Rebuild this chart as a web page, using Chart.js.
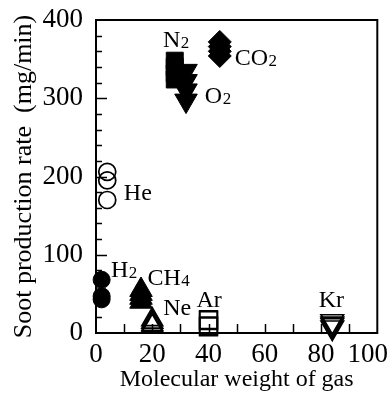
<!DOCTYPE html>
<html><head><meta charset="utf-8">
<script src="https://cdn.jsdelivr.net/npm/chart.js@4.4.1/dist/chart.umd.min.js"></script>
<style>html,body{margin:0;padding:0;background:#fff;}</style>
</head><body>
<canvas id="c" width="392" height="401"></canvas>
<script>
// ---- data ----
const gasNames      = ['H2', 'He', 'CH4', 'Ne', 'N2', 'O2', 'Ar', 'CO2', 'Kr'];
const molecularWeight = [2, 4, 16, 20, 28, 32, 40, 44, 84];
const h2Rates  = [68, 47, 43];
const heRates  = [206, 195, 170];
const ch4Rates = [55, 50, 45, 40];
const neRates  = [17, 14, 11, 9];
const n2Rates  = [348, 340, 332, 324];
const o2Rates  = [335, 322, 310, 297];
const arRates  = [17, 16, 9, 8];
const co2Rates = [372, 366, 360, 354];
const krRates  = [15, 12, 10, 7];
const xTickValues = [0, 20, 40, 60, 80, 100];
const yTickValues = [0, 100, 200, 300, 400];
const xTitle = 'Molecular weight of gas';
const yTitle = 'Soot production rate  (mg/min)';
// label text: main part + subscript
const labelMain = ['H', 'He', 'CH', 'Ne', 'N', 'O', 'Ar', 'CO', 'Kr'];
const labelSub  = ['2', '', '4', '', '2', '2', '', '2', ''];
// label anchors (left edge, baseline) in data units
const labelAnchorX = [5.3, 9.9, 18.3, 23.9, 23.8, 38.7, 35.7, 49.3, 79.2];
const labelAnchorY = [71.6, 170, 61.3, 23, 365.5, 294, 33, 342.5, 33];

const rateSeries = [h2Rates, heRates, ch4Rates, neRates, n2Rates, o2Rates, arRates, co2Rates, krRates];
// marker style per gas
const markerStyle = {
  H2:  {s: 'circle',   r: 8.5,  fill: true,  rot: 0},
  He:  {s: 'circle',   r: 8.5,  fill: false, rot: 0},
  CH4: {s: 'triangle', r: 13,   fill: true,  rot: 0},
  Ne:  {s: 'triangle', r: 12,   fill: false, rot: 0},
  N2:  {s: 'rect',     r: 12,   fill: true,  rot: 0},
  O2:  {s: 'triangle', r: 13,   fill: true,  rot: 180},
  Ar:  {s: 'rect',     r: 12.5, fill: false, rot: 0},
  CO2: {s: 'rectRot',  r: 11.5, fill: true,  rot: 0},
  Kr:  {s: 'triangle', r: 13,   fill: false, rot: 180}
};

const SERIF = "'Liberation Serif', 'Times New Roman', serif";

const datasets = gasNames.map((g, i) => {
  const m = markerStyle[g];
  return {
    label: g,
    data: rateSeries[i].map(v => ({x: molecularWeight[i], y: v})),
    pointStyle: m.s,
    pointRadius: m.r,
    pointRotation: m.rot,
    pointBackgroundColor: m.fill ? '#000' : 'rgba(0,0,0,0)',
    pointBorderColor: '#000',
    pointBorderWidth: m.fill ? 1 : 1.7,
    clip: false
  };
});

const decor = {
  id: 'decor',
  afterDatasetsDraw(chart) {
    const {ctx, scales: {x, y}} = chart;
    ctx.save();
    ctx.fillStyle = '#000';
    ctx.textBaseline = 'alphabetic';
    ctx.textAlign = 'left';
    for (let i = 0; i < labelMain.length; i++) {
      const px = x.getPixelForValue(labelAnchorX[i]);
      const py = y.getPixelForValue(labelAnchorY[i]);
      ctx.font = '24px ' + SERIF;
      ctx.fillText(labelMain[i], px, py);
      const w = ctx.measureText(labelMain[i]).width;
      if (labelSub[i]) {
        ctx.font = '17px ' + SERIF;
        ctx.fillText(labelSub[i], px + w + 0.5, py + 1);
      }
    }
    ctx.restore();
  },
  afterDraw(chart) {
    const {ctx, chartArea: a, scales: {x, y}} = chart;
    ctx.save();
    ctx.strokeStyle = '#000';
    ctx.lineWidth = 2;
    ctx.strokeRect(a.left, a.top, a.right - a.left, a.bottom - a.top);
    ctx.lineWidth = 1.5;
    ctx.beginPath();
    for (let v = 20; v < 400; v += 20) {
      const py = Math.round(y.getPixelForValue(v)) + 0.5;
      const len = (v % 100 === 0) ? 11 : 6;
      ctx.moveTo(a.left, py); ctx.lineTo(a.left + len, py);
    }
    for (let v = 10; v < 100; v += 10) {
      const px = Math.round(x.getPixelForValue(v)) + 0.5;
      ctx.moveTo(px, a.bottom); ctx.lineTo(px, a.bottom - 9);
    }
    ctx.stroke();
    ctx.restore();
  }
};

new Chart(document.getElementById('c'), {
  type: 'scatter',
  data: {datasets},
  plugins: [decor],
  options: {
    responsive: false,
    animation: false,
    layout: {padding: {top: 20, right: 14, left: 0, bottom: 0}},
    plugins: {legend: {display: false}, tooltip: {enabled: false}},
    scales: {
      x: {
        type: 'linear', min: 0, max: 100,
        afterBuildTicks: s => { s.ticks = xTickValues.map(v => ({value: v})); },
        ticks: {
          color: '#000', padding: 6, maxRotation: 0, autoSkip: false,
          font: {family: SERIF, size: 27},
          callback: v => (v === 100 ? '100\u2002\u2009' : String(v))
        },
        grid: {display: false, drawTicks: false},
        border: {display: false},
        title: {display: true, text: xTitle, color: '#000', font: {family: SERIF, size: 24}, padding: {top: 0, bottom: 7}},
        afterFit: s => { s.height = 68; s.paddingLeft = 0; s.paddingRight = 0; }
      },
      y: {
        type: 'linear', min: 0, max: 400,
        afterBuildTicks: s => { s.ticks = yTickValues.map(v => ({value: v})); },
        ticks: {color: '#000', padding: 13, font: {family: SERIF, size: 27}},
        grid: {display: false, drawTicks: false},
        border: {display: false},
        title: {display: true, text: yTitle, color: '#000', font: {family: SERIF, size: 26}, padding: {top: 9, bottom: 0}},
        afterFit: s => { s.width = 96; s.paddingTop = 0; s.paddingBottom = 0; }
      }
    }
  }
});
</script>
</body></html>
